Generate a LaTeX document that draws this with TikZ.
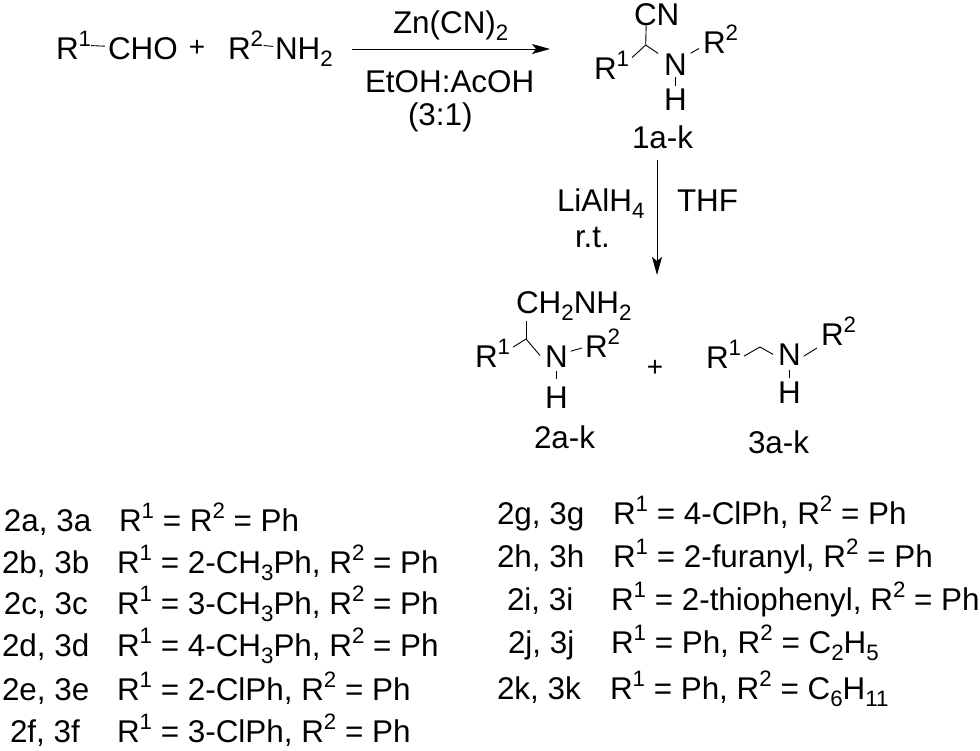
\documentclass[tikz,border=0pt]{standalone}
\usepackage{fontspec}
\setmainfont{Liberation Sans}
\usetikzlibrary{arrows.meta}
\newcommand{\Up}[1]{\raisebox{12.5pt}{\fontsize{22.3}{22}\selectfont #1}}
\newcommand{\Dn}[1]{\raisebox{-7.5pt}{\fontsize{22.3}{22}\selectfont #1}}
\tikzset{
  lbl/.style={anchor=base west,inner sep=0pt,outer sep=0pt,font=\fontsize{31.4}{31}\selectfont},
  pluslbl/.style={anchor=center,inner sep=0pt,font=\fontsize{28}{28}\selectfont},
  bond/.style={line width=0.9pt,black},
  rxn/.style={line width=1pt,black,-{Stealth[length=18pt,width=10pt,inset=4pt]}}
}
\begin{document}
\begin{tikzpicture}[x=1pt,y=-1pt]
\useasboundingbox (0,0) rectangle (980,750);
% reagents
\node[lbl] (ra1) at (56,59) {R\Up{1}};
\node[lbl] (cho) at (108,59) {CHO};
\node[pluslbl] (p1) at (197,48) {+};
\node[lbl] (ra2) at (228,59) {R\Up{2}};
\node[lbl] (nh2) at (275,59) {NH\Dn{2}};
\draw[bond] ([shift={(0,0.5)}]ra1.east) -- ([shift={(-3,-2)}]cho.west);
\draw[bond] ([shift={(0.5,0.5)}]ra2.east) -- ([shift={(-2,-5.5)}]nh2.west);
% top arrow
\coordinate (a1s) at (352,49);
\coordinate (a1e) at (550,49);
\draw[rxn] (a1s) -- (a1e);
\node[lbl] (zn) at (393,33) {Zn(CN)\Dn{2}};
\node[lbl] (etoh) at (365,92) {EtOH:AcOH};
\node[lbl] (ratio) at (408,125) {(3:1)};
% product 1
\node[lbl] (cn) at (634,25) {CN};
\coordinate (c1) at (645.7,45);
\node[lbl] (r11) at (594,79) {R\Up{1}};
\node[lbl] (n1) at (664,75) {N};
\node[lbl] (r12) at (703,53) {R\Up{2}};
\node[lbl] (h1) at (664,110) {H};
\node[lbl] (l1) at (632,148) {1a-k};
\draw[bond] ([shift={(-10.5,0)}]cn.south) -- (c1);
\draw[bond] (c1) -- ([shift={(3,-7.5)}]r11.east);
\draw[bond] (c1) -- ([shift={(-6,0)}]n1.north west);
\draw[bond] ([shift={(4,-11)}]n1.east) -- ([shift={(-4,9.5)}]r12.west);
\draw[bond,shorten <=2pt,shorten >=2pt] (n1.south) -- (h1.north);
% second arrow
\coordinate (a2s) at (657,160);
\coordinate (a2e) at (657,275);
\draw[rxn] (a2s) -- (a2e);
\node[lbl] (lialh) at (557,211) {LiAlH\Dn{4}};
\node[lbl] (rt) at (575,247) {r.t.};
\node[lbl] (thf) at (677,211) {THF};
% product 2
\node[lbl] (ch) at (516,313) {CH\Dn{2}NH\Dn{2}};
\coordinate (c2) at (526,339);
\node[lbl] (r21) at (475,367) {R\Up{1}};
\node[lbl] (n2) at (545,367) {N};
\node[lbl] (r22) at (585,357) {R\Up{2}};
\node[lbl] (h2) at (545,408) {H};
\node[lbl] (l2) at (534,448) {2a-k};
\draw[bond] (c2 |- ch.south) -- (c2);
\draw[bond] (c2) -- ([shift={(3,-6)}]r21.east);
\draw[bond] (c2) -- ([shift={(-5,10)}]n2.north west);
\draw[bond] ([shift={(3,-5)}]n2.east) -- ([shift={(-3,5)}]r22.west);
\draw[bond,shorten <=4pt,shorten >=7pt] (n2.south) -- (h2.north);
\node[pluslbl] (p2) at (655,368) {+};
% product 3
\node[lbl] (r31) at (706,368) {R\Up{1}};
\coordinate (c3) at (760,347);
\node[lbl] (n3) at (778,365) {N};
\node[lbl] (r32) at (821,345) {R\Up{2}};
\node[lbl] (h3) at (778,403) {H};
\node[lbl] (l3) at (748,453) {3a-k};
\draw[bond] ([shift={(3,2)}]r31.east) -- (c3);
\draw[bond] (c3) -- ([shift={(-5,11)}]n3.north west);
\draw[bond] ([shift={(3,2)}]n3.east) -- ([shift={(-4,17)}]r32.west);
\draw[bond,shorten <=5pt,shorten >=3pt] (n3.south) -- (h3.north);
% left list
\node[lbl] (k2a) at (4,531) {2a, 3a};
\node[lbl] (v2a) at (119,531) {R\Up{1} = R\Up{2} = Ph};
\node[lbl] (k2b) at (2,573) {2b, 3b};
\node[lbl] (v2b) at (117,573) {R\Up{1} = 2-CH\Dn{3}Ph, R\Up{2} = Ph};
\node[lbl] (k2c) at (4,614) {2c, 3c};
\node[lbl] (v2c) at (117,614) {R\Up{1} = 3-CH\Dn{3}Ph, R\Up{2} = Ph};
\node[lbl] (k2d) at (2,656) {2d, 3d};
\node[lbl] (v2d) at (117,656) {R\Up{1} = 4-CH\Dn{3}Ph, R\Up{2} = Ph};
\node[lbl] (k2e) at (2,700) {2e, 3e};
\node[lbl] (v2e) at (117,700) {R\Up{1} = 2-ClPh, R\Up{2} = Ph};
\node[lbl] (k2f) at (10,742) {2f, 3f};
\node[lbl] (v2f) at (117,742) {R\Up{1} = 3-ClPh, R\Up{2} = Ph};
% right list
\node[lbl] (k2g) at (497,524) {2g, 3g};
\node[lbl] (v2g) at (613,524) {R\Up{1} = 4-ClPh, R\Up{2} = Ph};
\node[lbl] (k2h) at (497,567) {2h, 3h};
\node[lbl] (v2h) at (613,567) {R\Up{1} = 2-furanyl, R\Up{2} = Ph};
\node[lbl] (k2i) at (507,610) {2i, 3i};
\node[lbl] (v2i) at (611,610) {R\Up{1} = 2-thiophenyl, R\Up{2} = Ph};
\node[lbl] (k2j) at (508,653) {2j, 3j};
\node[lbl] (v2j) at (611,653) {R\Up{1} = Ph, R\Up{2} = C\Dn{2}H\Dn{5}};
\node[lbl] (k2k) at (497,699) {2k, 3k};
\node[lbl] (v2k) at (610,699) {R\Up{1} = Ph, R\Up{2} = C\Dn{6}H\Dn{11}};
\end{tikzpicture}
\end{document}
